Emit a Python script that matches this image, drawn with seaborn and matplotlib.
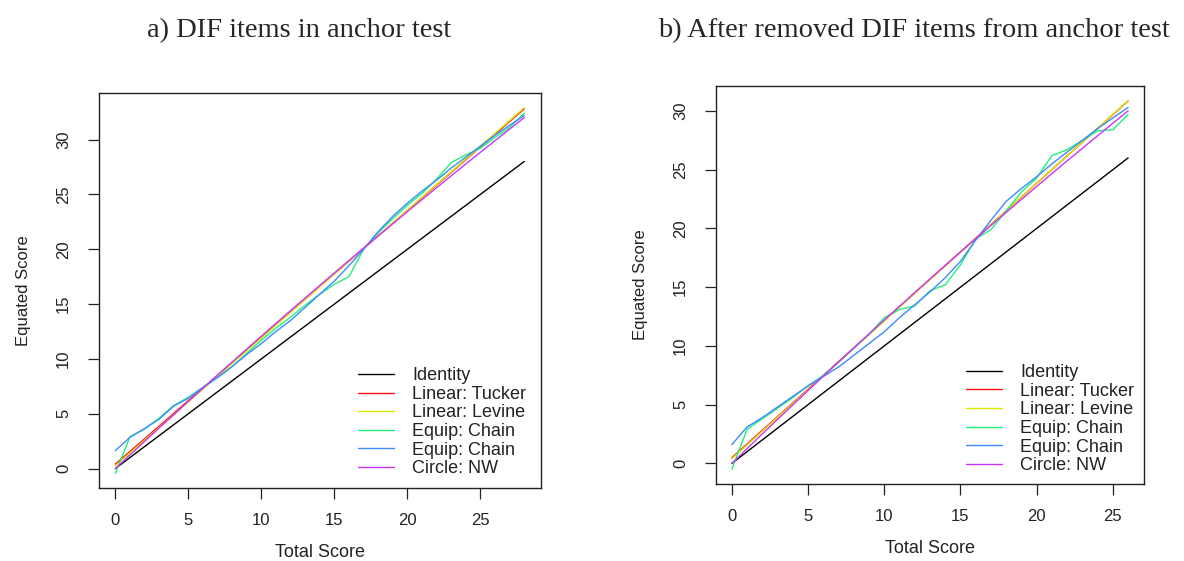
import matplotlib
matplotlib.use("Agg")
import matplotlib.pyplot as plt
import seaborn as sns

# score points
scores_a = list(range(0, 29))
scores_b = list(range(0, 27))

# a) DIF items in anchor test
identity_a = [float(s) for s in scores_a]
tucker_a = [0.40, 1.56, 2.71, 3.87, 5.03, 6.19, 7.34, 8.50, 9.66, 10.81, 11.97, 13.13, 14.28, 15.44,
            16.60, 17.76, 18.91, 20.07, 21.23, 22.38, 23.54, 24.70, 25.85, 27.01, 28.17, 29.33, 30.48,
            31.64, 32.80]
levine_a = [0.25, 1.42, 2.58, 3.75, 4.91, 6.08, 7.25, 8.41, 9.58, 10.74, 11.91, 13.08, 14.24, 15.41,
            16.57, 17.74, 18.91, 20.07, 21.24, 22.40, 23.57, 24.74, 25.90, 27.07, 28.23, 29.40, 30.57,
            31.73, 32.90]
equip1_a = [-0.45, 2.9, 3.6, 4.6, 5.75, 6.5, 7.4, 8.3, 9.3, 10.5, 11.7, 12.8, 13.8, 14.9, 15.9, 16.8,
            17.5, 20.0, 21.5, 22.8, 24.0, 25.1, 26.4, 27.9, 28.6, 29.2, 30.2, 31.1, 32.4]
equip2_a = [1.64, 2.85, 3.65, 4.5, 5.7, 6.4, 7.4, 8.3, 9.3, 10.4, 11.4, 12.5, 13.5, 14.7, 15.9, 17.1,
            18.5, 20.0, 21.6, 23.0, 24.2, 25.3, 26.3, 27.4, 28.4, 29.4, 30.4, 31.3, 32.2]
circle_a = [0.0, 1.24, 2.47, 3.70, 4.91, 6.13, 7.33, 8.53, 9.71, 10.90, 12.07, 13.24, 14.40, 15.55,
            16.70, 17.84, 18.97, 20.10, 21.21, 22.32, 23.43, 24.53, 25.61, 26.70, 27.77, 28.84, 29.90,
            30.95, 32.0]

# b) After removed DIF items from anchor test
identity_b = [float(s) for s in scores_b]
tucker_b = [0.48, 1.65, 2.82, 3.98, 5.15, 6.32, 7.49, 8.66, 9.82, 10.99, 12.16, 13.33, 14.50, 15.66,
            16.83, 18.00, 19.17, 20.34, 21.50, 22.67, 23.84, 25.01, 26.18, 27.34, 28.51, 29.68, 30.85]
levine_b = [0.40, 1.57, 2.74, 3.92, 5.09, 6.26, 7.43, 8.60, 9.78, 10.95, 12.12, 13.29, 14.46, 15.64,
            16.81, 17.98, 19.15, 20.32, 21.50, 22.67, 23.84, 25.01, 26.18, 27.36, 28.53, 29.70, 30.87]
equip1_b = [-0.5, 2.9, 3.8, 4.7, 5.6, 6.6, 7.5, 8.6, 9.8, 11.0, 12.4, 13.1, 13.4, 14.7, 15.2, 16.9,
            19.1, 19.9, 21.5, 23.1, 24.3, 26.2, 26.7, 27.5, 28.3, 28.4, 29.7]
equip2_b = [1.6, 3.1, 3.9, 4.8, 5.7, 6.6, 7.4, 8.2, 9.2, 10.2, 11.2, 12.4, 13.5, 14.6, 15.8, 17.2,
            19.0, 20.7, 22.3, 23.4, 24.4, 25.5, 26.5, 27.5, 28.5, 29.4, 30.3]
circle_b = [0.0, 1.26, 2.51, 3.75, 4.98, 6.20, 7.42, 8.63, 9.83, 11.02, 12.20, 13.37, 14.54, 15.70,
            16.85, 17.99, 19.12, 20.25, 21.36, 22.47, 23.57, 24.67, 25.75, 26.82, 27.89, 28.95, 30.0]

labels = ["Identity", "Linear: Tucker", "Linear: Levine", "Equip: Chain", "Equip: Chain", "Circle: NW"]
colors = ["#000000", "#FF1010", "#D8E800", "#22F07A", "#3D8BFF", "#CC33FF"]
titles = ["a) DIF items in anchor test", "b) After removed DIF items from anchor test"]

sns.set_style("white")
plt.rcParams["font.family"] = ["Liberation Sans", "DejaVu Sans"]

fig = plt.figure(figsize=(11.84, 5.61), dpi=100)
ax_a = fig.add_axes([0.0836, 0.130, 0.373, 0.704])
ax_b = fig.add_axes([0.6047, 0.1373, 0.3615, 0.7094])

panels = [
    (ax_a, scores_a, [identity_a, tucker_a, levine_a, equip1_a, equip2_a, circle_a],
     (-1.12, 29.12), (-1.78, 34.23), (0.586, 0.306)),
    (ax_b, scores_b, [identity_b, tucker_b, levine_b, equip1_b, equip2_b, circle_b],
     (-1.04, 27.04), (-1.75, 32.12), (0.584, 0.301)),
]

for ax, x, series, xlim, ylim, leg_pos in panels:
    for y, lab, col in zip(series, labels, colors):
        sns.lineplot(x=x, y=y, color=col, label=lab, linewidth=1.0, ax=ax, estimator=None)
    ax.set_xlim(*xlim)
    ax.set_ylim(*ylim)
    ax.set_xticks([0, 5, 10, 15, 20, 25])
    ax.set_yticks([0, 5, 10, 15, 20, 25, 30])
    for sp in ax.spines.values():
        sp.set_visible(True)
        sp.set_color("#222222")
        sp.set_linewidth(1.0)
    ax.tick_params(axis="both", direction="out", length=8, width=0.9, color="#222222",
                   labelsize=12, labelcolor="#222222")
    ax.tick_params(axis="x", pad=10, bottom=True)
    ax.tick_params(axis="y", pad=12, left=True, labelrotation=90)
    for t in ax.get_yticklabels():
        t.set_va("center")
    ax.set_xlabel("Total Score", fontsize=13, color="#222222", labelpad=11.5)
    ax.set_ylabel("Equated Score", fontsize=12, color="#222222", labelpad=18)
    ax.legend(loc="upper left", bbox_to_anchor=leg_pos, frameon=False, fontsize=13,
              handlelength=2.0, handletextpad=1.0, labelspacing=0.09, borderpad=0,
              borderaxespad=0, labelcolor="#222222")

fig.text(0.2525, 0.945, titles[0], ha="center", va="center", fontsize=20.5,
         family=["Liberation Serif", "DejaVu Serif"])
fig.text(0.772, 0.945, titles[1], ha="center", va="center", fontsize=20.5,
         family=["Liberation Serif", "DejaVu Serif"])

fig.savefig("out.png", dpi=100)
